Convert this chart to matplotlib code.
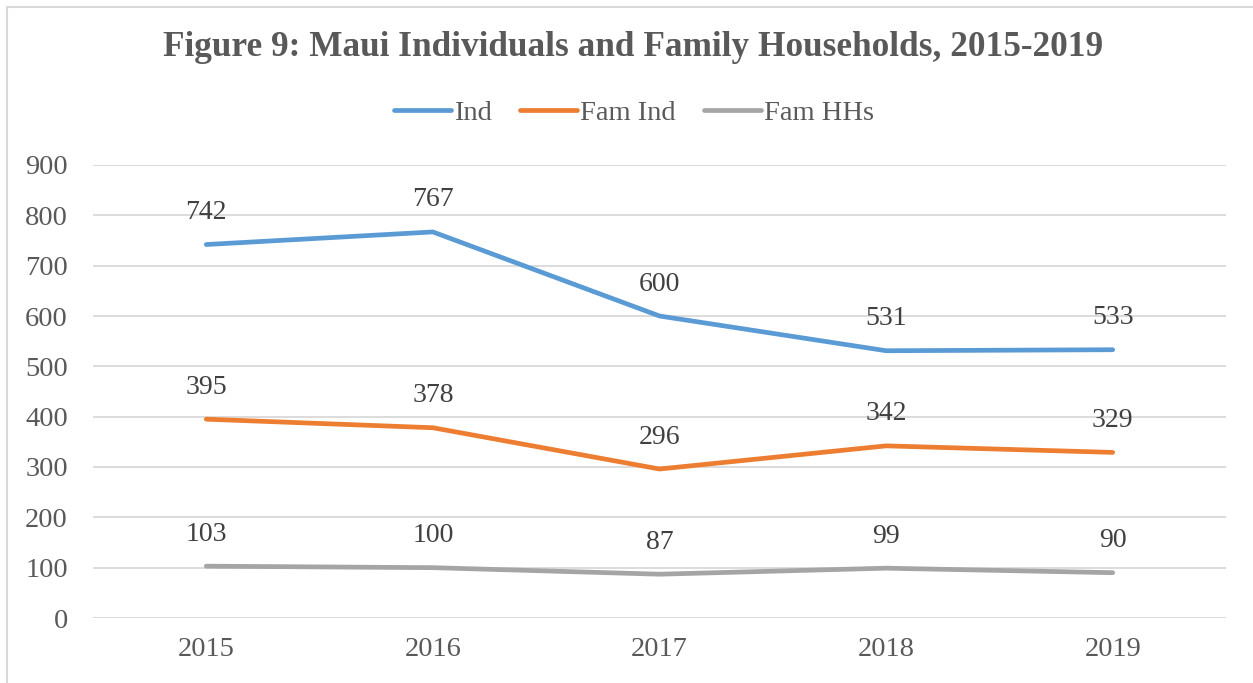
import matplotlib.pyplot as plt
from matplotlib.patches import Rectangle

years = ['2015', '2016', '2017', '2018', '2019']
ind = [742, 767, 600, 531, 533]
fam_ind = [395, 378, 296, 342, 329]
fam_hhs = [103, 100, 87, 99, 90]
yticks = [0, 100, 200, 300, 400, 500, 600, 700, 800, 900]

series = [
    ('Ind', ind, '#5B9BD5'),
    ('Fam Ind', fam_ind, '#ED7D31'),
    ('Fam HHs', fam_hhs, '#A5A5A5'),
]

plt.rcParams['font.family'] = ['Liberation Serif', 'DejaVu Serif']

W, H = 1253, 683
fig = plt.figure(figsize=(W / 100, H / 100), dpi=100)

# chart border (left and top visible)
fig.patches.append(Rectangle((7 / W, -0.05), 1.2, 1 - 7 / H + 0.05,
                             transform=fig.transFigure, fill=False,
                             edgecolor='#D9D9D9', linewidth=1.5))

ax = fig.add_axes([93 / W, 1 - 618 / H, 1133 / W, 453 / H])
x = list(range(len(years)))

for name, vals, col in series:
    ax.plot(x, vals, color=col, linewidth=3.4, solid_capstyle='round',
            solid_joinstyle='round', label=name, zorder=3)
    for xi, v in zip(x, vals):
        ax.annotate(str(v), (xi, v), xytext=(0, 14), textcoords='offset points',
                    ha='center', va='bottom', fontsize=20, color='#404040')

ax.set_xlim(-0.5, len(years) - 0.5)
ax.set_ylim(0, 900)
ax.set_yticks(yticks)
ax.set_xticks(x)
ax.set_xticklabels(years)
ax.tick_params(axis='both', length=0, labelsize=20.5, labelcolor='#595959')
ax.tick_params(axis='y', pad=18)
ax.tick_params(axis='x', pad=14)
ax.grid(axis='y', color='#D9D9D9', linewidth=1.3, zorder=0)
ax.set_axisbelow(True)
for s in ax.spines.values():
    s.set_visible(False)

fig.text(0.505, 1 - 48 / H, 'Figure 9: Maui Individuals and Family Households, 2015-2019',
         ha='center', va='center', fontsize=25.4, fontweight='bold', color='#595959')

fig.legend(loc='center', bbox_to_anchor=(0.506, 1 - 113 / H), ncol=3, frameon=False,
           fontsize=20.5, labelcolor='#595959', handlelength=2.0, handletextpad=0.1,
           columnspacing=1.0)

fig.savefig('out.png', dpi=100)
